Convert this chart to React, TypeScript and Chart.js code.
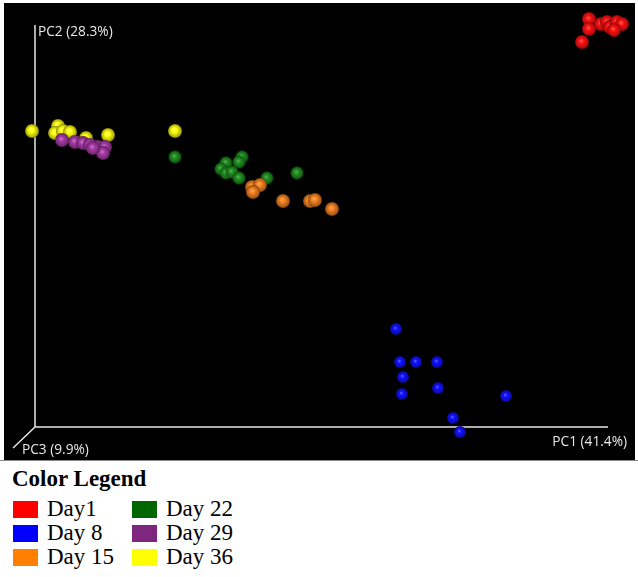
import React, { useEffect, useRef } from "react";
import { Chart, registerables } from "chart.js";

Chart.register(...registerables);

// PCoA scores, in plot units (origin = axis corner)
const day1PC1 = [554, 554, 547, 566, 572, 575, 582, 587, 579];
const day1PC2 = [408, 398, 385, 403, 405, 400, 405, 403, 397];

const day8PC1 = [361, 365, 381, 402, 368, 403, 367, 471, 418, 425];
const day8PC2 = [98, 65, 65, 65, 50, 39, 33, 31, 9, -5];

const day15PC1 = [217, 225, 218, 248, 275, 280, 297];
const day15PC2 = [240, 242, 235, 226, 226, 227, 218];

const day22PC1 = [140, 191, 207, 204, 186, 191, 197, 204, 232, 262];
const day22PC2 = [270, 264, 270, 265, 258, 254, 255, 249, 249, 254];

const day29PC1 = [27, 40, 48, 55, 63, 70, 68, 58];
const day29PC2 = [287, 285, 284, 282, 280, 280, 274, 279];

const day36PC1 = [-3, 23, 20, 28, 35, 51, 73, 140];
const day36PC2 = [296, 301, 294, 296, 295, 289, 292, 296];

const seriesNames = ["Day1", "Day 8", "Day 15", "Day 22", "Day 29", "Day 36"];
const sphereColors = ["#ff1010", "#1010ff", "#f58220", "#1f8f1f", "#a83aa8", "#ffff10"];
const swatchColors = ["#ff0000", "#0000ff", "#ff7f00", "#006600", "#7f267f", "#ffff00"];
const sphereRadius = [7, 6, 7, 6.5, 7, 7];

const axisLabels = ["PC1 (41.4%)", "PC2 (28.3%)", "PC3 (9.9%)"];

function shade(hex: string, f: number): string {
  const n = parseInt(hex.slice(1), 16);
  let r = (n >> 16) & 255, g = (n >> 8) & 255, b = n & 255;
  if (f >= 0) {
    r = r + (255 - r) * f; g = g + (255 - g) * f; b = b + (255 - b) * f;
  } else {
    r = r * (1 + f); g = g * (1 + f); b = b * (1 + f);
  }
  return `rgb(${Math.round(r)},${Math.round(g)},${Math.round(b)})`;
}

function makeSphere(color: string, r: number): HTMLCanvasElement {
  const size = Math.ceil(r * 2 + 2);
  const c = document.createElement("canvas");
  c.width = size;
  c.height = size;
  const ctx = c.getContext("2d")!;
  const cx = size / 2, cy = size / 2;
  const g = ctx.createRadialGradient(cx - r * 0.15, cy - r * 0.2, 0, cx, cy, r);
  g.addColorStop(0, shade(color, 0.35));
  g.addColorStop(0.35, color);
  g.addColorStop(0.85, shade(color, -0.3));
  g.addColorStop(1, shade(color, -0.55));
  ctx.fillStyle = g;
  ctx.beginPath();
  ctx.arc(cx, cy, r, 0, Math.PI * 2);
  ctx.fill();
  return c;
}

export default function App() {
  const ref = useRef<HTMLCanvasElement>(null);

  useEffect(() => {
    document.body.style.margin = "0";
    const xs = [day1PC1, day8PC1, day15PC1, day22PC1, day29PC1, day36PC1];
    const ys = [day1PC2, day8PC2, day15PC2, day22PC2, day29PC2, day36PC2];
    const order = [6, 5, 1, 2, 0, 3];
    const datasets = seriesNames.map((name, i) => ({
      label: name,
      data: xs[i].map((x, j) => ({ x, y: ys[i][j] })),
      pointStyle: makeSphere(sphereColors[i], sphereRadius[i]) as any,
      pointRadius: sphereRadius[i],
      showLine: false,
      order: order[i],
    }));

    const background = {
      id: "background",
      beforeDraw(chart: any) {
        const { ctx, chartArea } = chart;
        ctx.save();
        ctx.fillStyle = "#000";
        ctx.fillRect(chartArea.left, chartArea.top, chartArea.right - chartArea.left, chartArea.bottom - chartArea.top);
        ctx.fillStyle = "#888";
        ctx.fillRect(0, chartArea.bottom, chart.width, 1);
        const xs = chart.scales.x, ys = chart.scales.y;
        const ox = xs.getPixelForValue(0), oy = ys.getPixelForValue(0);
        ctx.strokeStyle = "#e6e6e6";
        ctx.lineWidth = 1.5;
        ctx.beginPath();
        ctx.moveTo(ox, ys.getPixelForValue(402));
        ctx.lineTo(ox, oy);
        ctx.lineTo(xs.getPixelForValue(573), oy);
        ctx.moveTo(ox, oy);
        ctx.lineTo(xs.getPixelForValue(-22), ys.getPixelForValue(-21));
        ctx.stroke();
        ctx.fillStyle = "#e8e8e8";
        ctx.font = "13.7px 'Open Sans', sans-serif";
        ctx.textBaseline = "middle";
        ctx.textAlign = "right";
        ctx.fillText(axisLabels[0], xs.getPixelForValue(592), ys.getPixelForValue(-15));
        ctx.textAlign = "left";
        ctx.fillText(axisLabels[1], xs.getPixelForValue(3), ys.getPixelForValue(395));
        ctx.fillText(axisLabels[2], xs.getPixelForValue(-13), ys.getPixelForValue(-23));
        ctx.restore();
      },
    };

    const chart = new Chart(ref.current!, {
      type: "scatter",
      data: { datasets },
      options: {
        animation: false,
        responsive: false,
        layout: { autoPadding: false, padding: { left: 4, right: 3, top: 3, bottom: 1 } },
        plugins: { legend: { display: false }, tooltip: { enabled: false } },
        scales: {
          x: { display: false, min: -31, max: 600 },
          y: { display: false, min: -33, max: 424 },
        },
      },
      plugins: [background],
    });
    return () => chart.destroy();
  }, []);

  const legendRows = [0, 1, 2];
  return (
    <div style={{ position: "relative", width: 638, height: 577, background: "#fff" }}>
      <canvas ref={ref} width={638} height={461} style={{ position: "absolute", left: 0, top: 0 }} />
      <div
        style={{
          position: "absolute",
          left: 12,
          top: 467,
          fontFamily: "'Liberation Serif', 'Times New Roman', serif",
          fontWeight: "bold",
          fontSize: 23,
          color: "#000",
          lineHeight: "24px",
        }}
      >
        Color Legend
      </div>
      {legendRows.map((r) =>
        [0, 1].map((c) => {
          const i = c * 3 + r;
          return (
            <div
              key={i}
              style={{
                position: "absolute",
                left: c === 0 ? 13 : 132,
                top: 497 + r * 24,
                display: "flex",
                alignItems: "center",
                height: 24,
                fontFamily: "'Liberation Serif', 'Times New Roman', serif",
                fontSize: 23,
                color: "#000",
              }}
            >
              <span style={{ display: "inline-block", width: 25, height: 17, background: swatchColors[i], marginRight: 9 }} />
              <span>{seriesNames[i]}</span>
            </div>
          );
        })
      )}
    </div>
  );
}
